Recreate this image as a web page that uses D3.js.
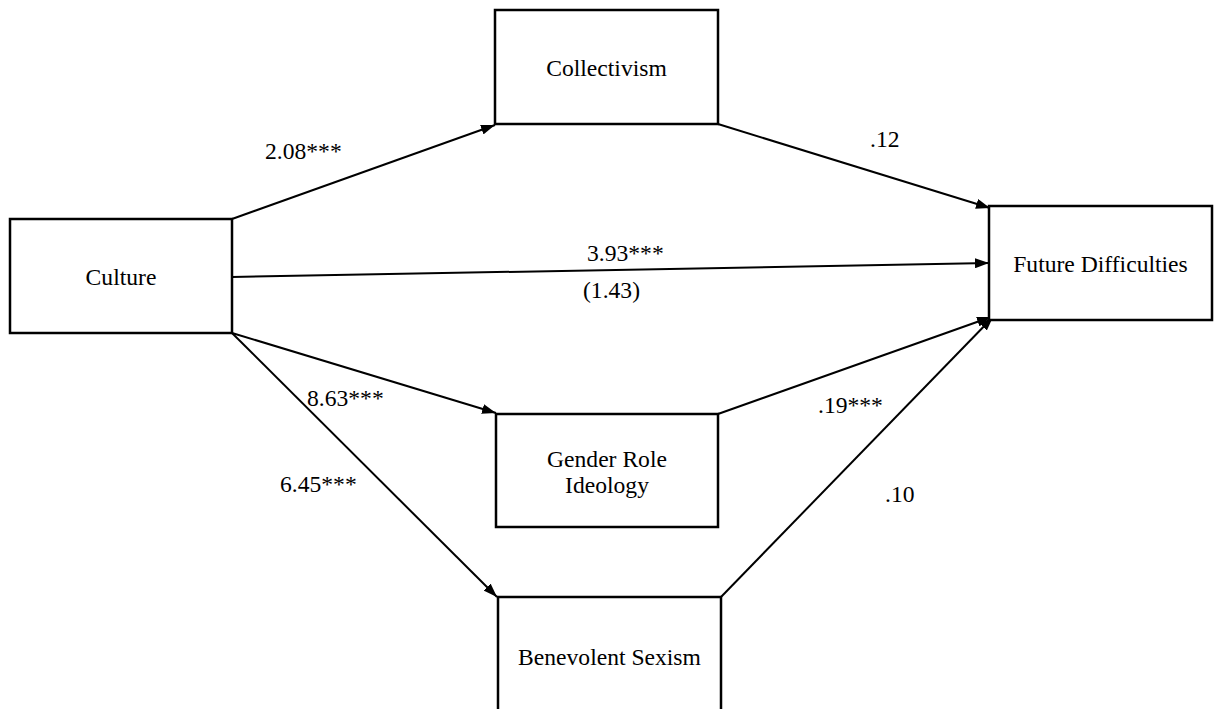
<!DOCTYPE html>
<html>
<head>
<meta charset="utf-8">
<script src="https://d3js.org/d3.v7.min.js"></script>
<style>
  html, body { margin: 0; padding: 0; background: #fff; }
  svg { display: block; }
</style>
</head>
<body>
<svg id="chart" width="1216" height="709"></svg>
<script>
// Variables in the mediation model
const nodeIds    = ["culture", "collectivism", "genderRole", "benevolent", "future"];
const nodeLabels = [["Culture"], ["Collectivism"], ["Gender Role", "Ideology"], ["Benevolent Sexism"], ["Future Difficulties"]];

// Paths (from -> to) and their coefficients
const pathFrom   = ["culture", "culture", "culture", "culture", "collectivism", "genderRole", "benevolent"];
const pathTo     = ["collectivism", "future", "genderRole", "benevolent", "future", "future", "future"];
const pathCoef   = [2.08, 3.93, 8.63, 6.45, 0.12, 0.19, 0.10];
const pathStars  = ["***", "***", "***", "***", "", "***", ""];
const directCoef = [1.43]; // culture -> future with mediators in the model

// Layout of the diagram (pixel boxes and anchor points)
const boxes = {
  culture:      { x: 10,  y: 219, w: 222, h: 114 },
  collectivism: { x: 495, y: 10,  w: 223, h: 114 },
  genderRole:   { x: 496, y: 414, w: 222, h: 113 },
  benevolent:   { x: 498, y: 597, w: 223, h: 118 },
  future:       { x: 989, y: 206, w: 223, h: 114 }
};
const pathGeom = [
  { x1: 232, y1: 219, x2: 495, y2: 125 },
  { x1: 232, y1: 277, x2: 989, y2: 263 },
  { x1: 232, y1: 333, x2: 496, y2: 413 },
  { x1: 232, y1: 333, x2: 497, y2: 597 },
  { x1: 718, y1: 124, x2: 990, y2: 208 },
  { x1: 718, y1: 414, x2: 991, y2: 317 },
  { x1: 721, y1: 597, x2: 993, y2: 317 }
];
const coefPos = [
  { x: 265, y: 159 },
  { x: 587, y: 261 },
  { x: 307, y: 406 },
  { x: 280, y: 492 },
  { x: 870, y: 147 },
  { x: 818, y: 413 },
  { x: 885, y: 502 }
];
const directPos = { x: 583, y: 298 };

const fontSize = 23.6;
const fontFamily = "'Liberation Serif', 'Times New Roman', 'DejaVu Serif', serif";
const svg = d3.select("#chart");

// Coefficients are printed APA style: no leading zero
const fmt = d3.format(".2f");
const coefText = v => fmt(v).replace(/^(-?)0\./, "$1.");

const defs = svg.append("defs");
defs.append("marker")
  .attr("id", "arrow")
  .attr("markerUnits", "userSpaceOnUse")
  .attr("viewBox", "0 0 14 10")
  .attr("refX", 14)
  .attr("refY", 5)
  .attr("markerWidth", 14)
  .attr("markerHeight", 10)
  .attr("orient", "auto")
  .append("path")
  .attr("d", "M0,0 L14,5 L0,10 Z")
  .attr("fill", "#000");

const paths = pathFrom.map((f, i) => ({
  from: f, to: pathTo[i], coef: pathCoef[i], stars: pathStars[i], g: pathGeom[i], p: coefPos[i]
}));

// Arrows
svg.append("g").selectAll("line")
  .data(paths)
  .join("line")
  .attr("x1", d => d.g.x1).attr("y1", d => d.g.y1)
  .attr("x2", d => d.g.x2).attr("y2", d => d.g.y2)
  .attr("stroke", "#000")
  .attr("stroke-width", 2)
  .attr("marker-end", "url(#arrow)");

// Boxes
const nodes = nodeIds.map((id, i) => ({ id, lines: nodeLabels[i], b: boxes[id] }));
const ng = svg.append("g").selectAll("g")
  .data(nodes)
  .join("g");

ng.append("rect")
  .attr("x", d => d.b.x).attr("y", d => d.b.y)
  .attr("width", d => d.b.w).attr("height", d => d.b.h)
  .attr("fill", "#fff")
  .attr("stroke", "#000")
  .attr("stroke-width", 2.5);

ng.each(function(d) {
  const cx = d.b.x + d.b.w / 2;
  const cy = d.b.y + d.b.h / 2;
  const lh = 26;
  const n = d.lines.length;
  d3.select(this).selectAll("text")
    .data(d.lines)
    .join("text")
    .attr("x", cx)
    .attr("y", (t, j) => cy + 9 + (j - (n - 1) / 2) * lh)
    .attr("text-anchor", "middle")
    .style("font-family", fontFamily)
    .style("font-size", fontSize + "px")
    .attr("fill", "#000")
    .text(t => t);
});

// Coefficient labels
svg.append("g").selectAll("text")
  .data(paths)
  .join("text")
  .attr("x", d => d.p.x).attr("y", d => d.p.y)
  .style("font-family", fontFamily)
  .style("font-size", fontSize + "px")
  .attr("fill", "#000")
  .text(d => coefText(d.coef) + d.stars);

svg.append("text")
  .attr("x", directPos.x).attr("y", directPos.y)
  .style("font-family", fontFamily)
  .style("font-size", fontSize + "px")
  .attr("fill", "#000")
  .text("(" + coefText(directCoef[0]) + ")");
</script>
</body>
</html>
